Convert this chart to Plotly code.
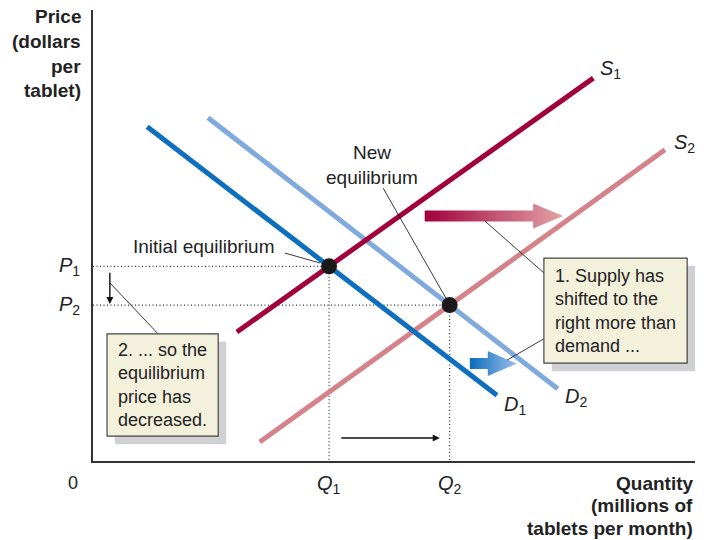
import numpy as np
import plotly.graph_objects as go

# ---- curve endpoints (quantity, price) on a 0-100 scale ----
d1_q = [9.0, 67.1]
d1_p = [74.1, 14.6]
d2_q = [19.1, 77.2]
d2_p = [76.1, 16.0]
s1_q = [23.9, 83.1]
s1_p = [28.6, 84.9]
s2_q = [27.7, 95.0]
s2_p = [4.2, 69.0]

COL_D1 = "#0e6fbe"
COL_D2 = "#80aadc"
COL_S1 = "#a2003a"
COL_S2 = "#d5838b"
BOX_FILL = "#f3f0dc"
SHADOW = "#cfd0d4"
FONT = "Liberation Sans, Arial, Helvetica, sans-serif"

W, H = 708, 540
ML, MR, MT, MB = 93, 13, 10, 79
PX_X = (W - ML - MR) / 100.0   # pixels per quantity unit
PX_Y = (H - MT - MB) / 100.0   # pixels per price unit


def intersect(qa, pa, qb, pb):
    ma = (pa[1] - pa[0]) / (qa[1] - qa[0])
    mb = (pb[1] - pb[0]) / (qb[1] - qb[0])
    ba = pa[0] - ma * qa[0]
    bb = pb[0] - mb * qb[0]
    q = (bb - ba) / (ma - mb)
    return q, ma * q + ba


q1, p1 = intersect(d1_q, d1_p, s1_q, s1_p)
q2, p2 = intersect(d2_q, d2_p, s2_q, s2_p)

fig = go.Figure()


def block_arrow(x0, x1, yc, body_px, head_px, head_len_px, c0, c1):
    hl = head_len_px / PX_X
    bh = body_px / 2 / PX_Y
    hh = head_px / 2 / PX_Y
    xb = x1 - hl
    xs = [x0, xb, xb, x1, xb, xb, x0, x0]
    ys = [yc + bh, yc + bh, yc + hh, yc, yc - hh, yc - bh, yc - bh, yc + bh]
    fig.add_trace(go.Scatter(
        x=xs, y=ys, mode="lines", fill="toself", line=dict(width=0),
        fillgradient=dict(type="horizontal", colorscale=[[0, c0], [1, c1]]),
        hoverinfo="skip", showlegend=False))


# shift arrows
block_arrow(55.1, 78.1, 54.3, 11, 25, 30, "#a2003a", "#e2a3a8")
block_arrow(62.6, 70.4, 21.6, 11, 25, 29, "#0a6cbd", "#9cc0ea")

# dotted guide lines
DOT = dict(color="#333", width=1.2, dash="1px,2.5px")
for q, p in [(q1, p1), (q2, p2)]:
    fig.add_trace(go.Scatter(x=[0, q], y=[p, p], mode="lines", line=DOT,
                             hoverinfo="skip", showlegend=False))
    fig.add_trace(go.Scatter(x=[q, q], y=[p, 0], mode="lines", line=DOT,
                             hoverinfo="skip", showlegend=False))

# supply and demand curves
for qs, ps, col in [(s2_q, s2_p, COL_S2), (d2_q, d2_p, COL_D2),
                    (d1_q, d1_p, COL_D1), (s1_q, s1_p, COL_S1)]:
    fig.add_trace(go.Scatter(x=qs, y=ps, mode="lines",
                             line=dict(color=col, width=5),
                             hoverinfo="skip", showlegend=False))

# leader lines
leaders = [
    ([31.9, 37.7], [46.1, 43.9]),
    ([48.2, 59.1], [60.5, 35.0]),
    ([65.1, 74.9], [53.2, 41.7]),
    ([68.8, 74.9], [22.4, 27.1]),
    ([2.8, 10.8], [39.5, 28.2]),
]
for lx, ly in leaders:
    fig.add_trace(go.Scatter(x=lx, y=ly, mode="lines",
                             line=dict(color="#222", width=0.9),
                             hoverinfo="skip", showlegend=False))

# equilibrium points
fig.add_trace(go.Scatter(x=[q1, q2], y=[p1, p2], mode="markers",
                         marker=dict(color="#1a1a1a", size=16),
                         hoverinfo="skip", showlegend=False))


def to_paper(x, y):
    return x / 100.0, y / 100.0


# callout boxes with drop shadows
sx, sy = 8 / PX_X, 8 / PX_Y
boxes = [
    ((74.9, 98.7, 21.7, 45.0),
     "1. Supply has<br>shifted to the<br>right more than<br>demand ..."),
    ((2.33, 20.8, 5.5, 28.2),
     "2. ... so the<br>equilibrium<br>price has<br>decreased."),
]
shapes = []
annotations = []
for (x0, x1, y0, y1), txt in boxes:
    shapes.append(dict(type="rect", xref="x", yref="y", layer="above",
                       x0=x0 + sx, x1=x1 + sx, y0=y0 - sy, y1=y1 - sy,
                       fillcolor=SHADOW, line=dict(width=0)))
    shapes.append(dict(type="rect", xref="x", yref="y", layer="above",
                       x0=x0, x1=x1, y0=y0, y1=y1,
                       fillcolor=BOX_FILL, line=dict(color="#444", width=1.2)))
    annotations.append(dict(x=(x0 + x1) / 2, y=(y0 + y1) / 2, xref="x", yref="y",
                            text=txt, showarrow=False, align="left",
                            font=dict(family=FONT, size=18, color="#222")))


def label(x, y, text, xanchor="center", size=18):
    px, py = to_paper(x, y)
    annotations.append(dict(x=px, y=py, xref="paper", yref="paper", text=text,
                            showarrow=False, xanchor=xanchor, yanchor="middle",
                            font=dict(family=FONT, size=size, color="#222")))


label(30.6, 47.5, "Initial equilibrium", xanchor="right", size=19)
label(46.3, 65.6, "New<br>equilibrium", size=19)
label(83.9, 86.7, "<i>S</i><sub>1</sub>", xanchor="left", size=20)
label(96.2, 70.5, "<i>S</i><sub>2</sub>", xanchor="left", size=20)
label(67.9, 12.4, "<i>D</i><sub>1</sub>", xanchor="left", size=20)
label(78.1, 14.0, "<i>D</i><sub>2</sub>", xanchor="left", size=20)
label(-1.8, p1, "<i>P</i><sub>1</sub>", xanchor="right", size=20)
label(-1.8, p2, "<i>P</i><sub>2</sub>", xanchor="right", size=20)
label(q1, -5.3, "<i>Q</i><sub>1</sub>", size=20)
label(q2, -5.3, "<i>Q</i><sub>2</sub>", size=20)
label(-3.3, -4.9, "0", size=18)

# axis titles, one line at a time (positions in pixels)
title_lines = []
for i, t in enumerate(["Price", "(dollars", "per", "tablet)"]):
    title_lines.append((83, 17 + 24.6 * i, t))
for i, t in enumerate(["Quantity", "(millions of", "tablets per month)"]):
    title_lines.append((695, 483 + 22.5 * i, t))
for px, py, t in title_lines:
    annotations.append(dict(x=(px - ML) / (W - ML - MR),
                            y=1 - (py - MT) / (H - MT - MB),
                            xref="paper", yref="paper",
                            text="<b>" + t + "</b>", showarrow=False,
                            xanchor="right", yanchor="middle",
                            font=dict(family=FONT, size=19, color="#222")))

# small change arrows
annotations.append(dict(x=2.8, y=34.8, ax=2.8, ay=42.1, xref="x", yref="y",
                        axref="x", ayref="y", text="", showarrow=True,
                        arrowhead=2, arrowsize=1, arrowwidth=1.4, arrowcolor="#111"))
annotations.append(dict(x=57.6, y=5.1, ax=41.0, ay=5.1, xref="x", yref="y",
                        axref="x", ayref="y", text="", showarrow=True,
                        arrowhead=2, arrowsize=1, arrowwidth=1.4, arrowcolor="#111"))

fig.update_layout(
    width=W, height=H,
    margin=dict(l=ML, r=MR, t=MT, b=MB),
    paper_bgcolor="white", plot_bgcolor="white",
    shapes=shapes, annotations=annotations,
    xaxis=dict(range=[0, 100], showgrid=False, zeroline=False, showticklabels=False,
               ticks="", showline=True, linecolor="#333", linewidth=1.5),
    yaxis=dict(range=[0, 100], showgrid=False, zeroline=False, showticklabels=False,
               ticks="", showline=True, linecolor="#333", linewidth=1.5),
)

fig.write_html("out.html")
